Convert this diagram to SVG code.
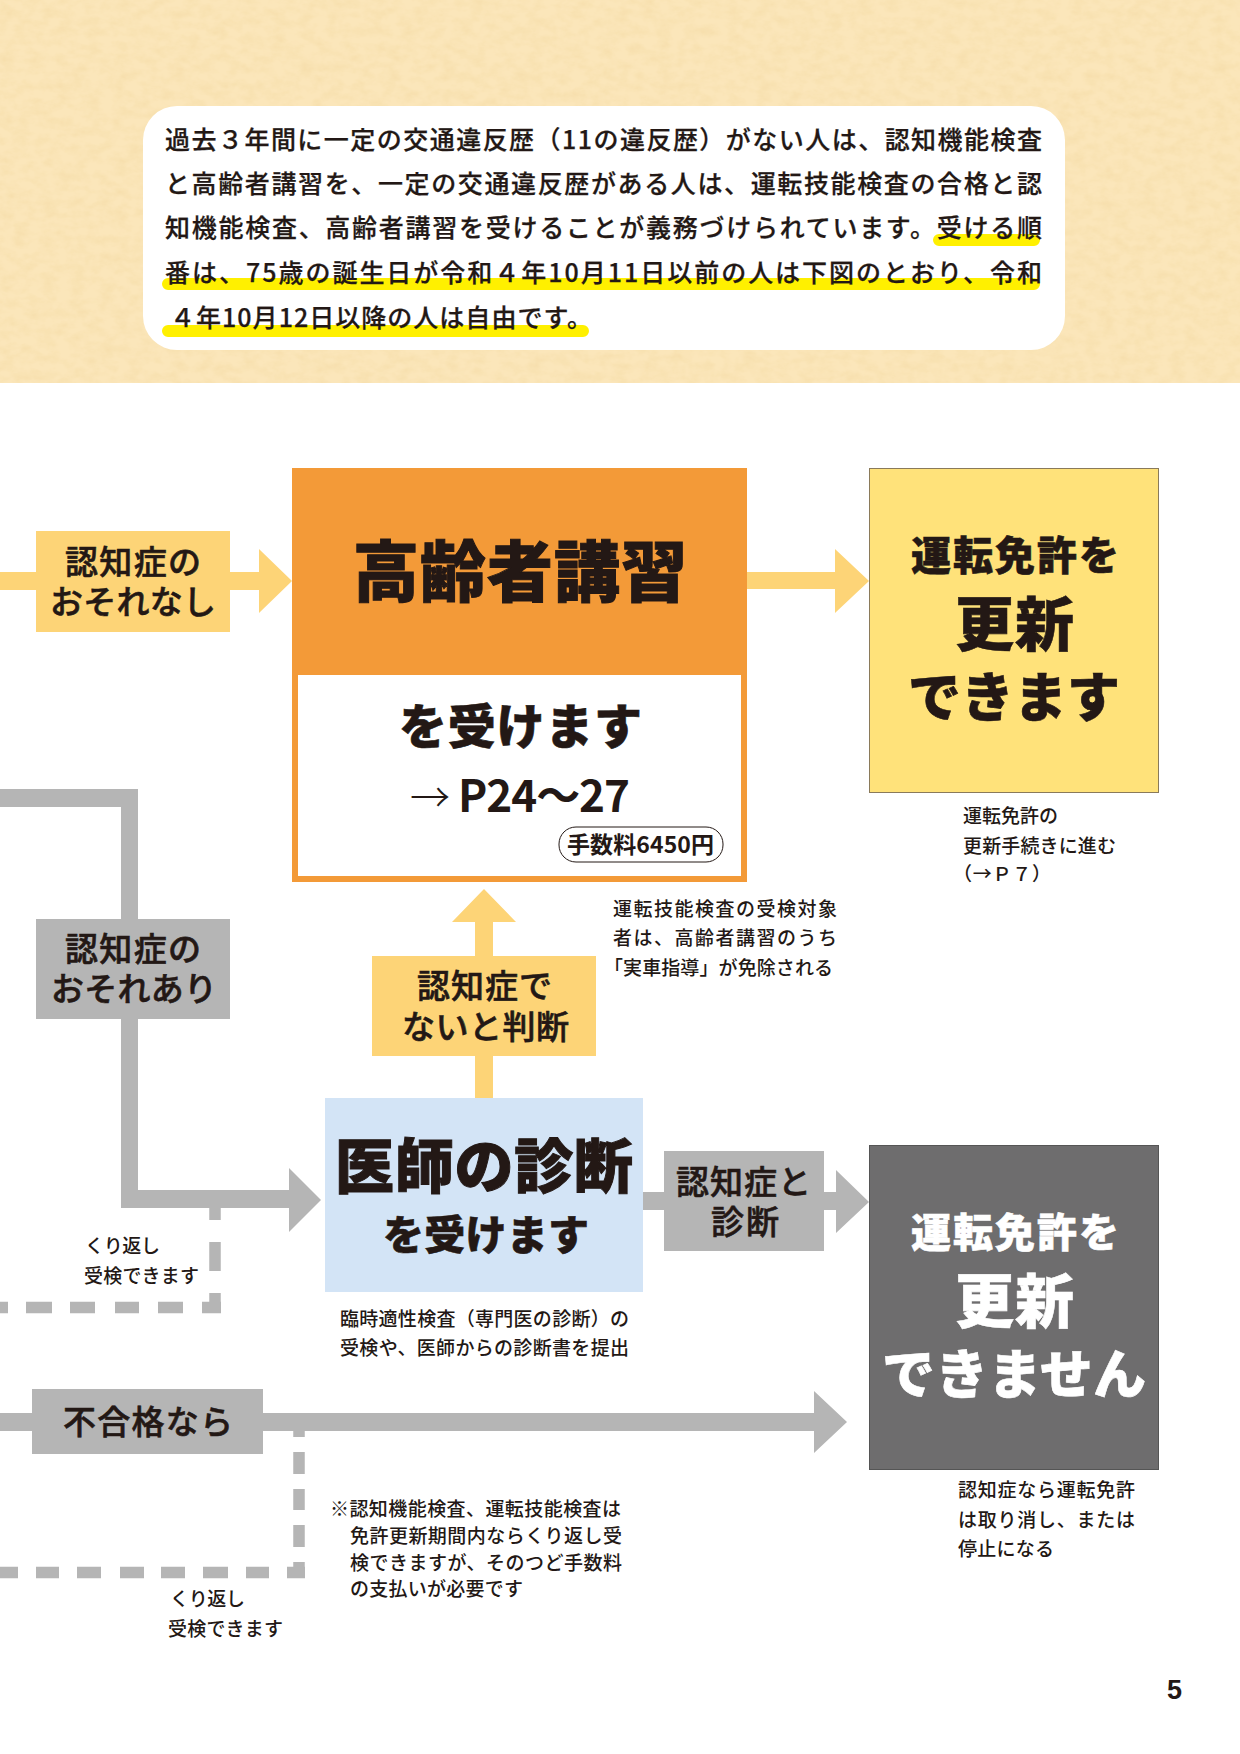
<svg xmlns="http://www.w3.org/2000/svg" width="1240" height="1754" viewBox="0 0 1240 1754">
<style>
text{font-family:"Noto Sans CJK JP","Noto Sans",sans-serif;fill:#231815}
.body{font-size:25px;font-weight:500;stroke:#231815;stroke-width:.25}
.lab{font-size:33px;font-weight:500;stroke:#231815;stroke-width:.6}
.small{font-size:19px;font-weight:500}
.hv{font-weight:900;stroke:#231815;stroke-width:.6}
.hv.wt{fill:#fff;stroke:#fff}
.y{fill:#fdd477}
.g{fill:#b5b5b5}
.dash{fill:none;stroke:#b5b5b5;stroke-width:11.5}
.hl{fill:none;stroke:#fff000;stroke-width:12;stroke-linecap:round}
</style>
<defs>
<filter id="grain" x="0" y="0" width="100%" height="100%">
<feTurbulence type="fractalNoise" baseFrequency="0.07 0.11" numOctaves="4" seed="3"/>
<feColorMatrix values="0 0 0 0 0.93  0 0 0 0 0.74  0 0 0 0 0.42  1.8 0 0 0 -0.6"/>
<feComposite in2="SourceGraphic" operator="over"/>
</filter>
</defs>
<rect id="paper" x="0" y="0" width="1240" height="383" fill="#fbe6ba" filter="url(#grain)"/>
<g id="intro">
<rect x="143" y="106" width="922" height="244" rx="34" fill="#fff"/>
<path class="hl" d="M939 240H1034M168 284H1034M168 331H583"/>
<text class="body" x="165" y="149" textLength="877">過去３年間に一定の交通違反歴（11の違反歴）がない人は、認知機能検査</text>
<text class="body" x="165" y="193" textLength="877">と高齢者講習を、一定の交通違反歴がある人は、運転技能検査の合格と認</text>
<text class="body" x="165" y="237" textLength="877">知機能検査、高齢者講習を受けることが義務づけられています。受ける順</text>
<text class="body" x="165" y="282" textLength="877">番は、75歳の誕生日が令和４年10月11日以前の人は下図のとおり、令和</text>
<text class="body" x="170" y="327" textLength="422">４年10月12日以降の人は自由です。</text>
</g>
<g id="connectors">
<path class="y" d="M0 572H259V549L292 581L259 613V590H0Z"/>
<path class="y" d="M747 572H835V549L869 581L835 613V589H747Z"/>
<path class="y" d="M475 1098V922H452L484 889L516 922H493V1098Z"/>
<path class="g" d="M0 789H138V1190H289V1168L321 1200L289 1232V1208H121V807H0Z"/>
<path class="g" d="M643 1192H836V1170L869 1202L836 1233V1210H643Z"/>
<path class="g" d="M0 1413H814V1391L847 1422L814 1453V1431H0Z"/>
<path class="dash" d="M215 1208V1220M215 1242V1271M215 1293V1313M0 1307.500H8M26 1307.500H52M70 1307.500H95M115 1307.500H139M158 1307.500H183M202 1307.500H221"/>
<path class="dash" d="M299 1431V1437M299 1452V1474M299 1489V1510M299 1525V1547M299 1562V1578M0 1572.500H18M36 1572.500H59M77 1572.500H101M120 1572.500H144M161 1572.500H185M203 1572.500H228M246 1572.500H269M287 1572.500H305"/>
</g>
<g id="label-nashi">
<rect class="y" x="36" y="531" width="194" height="101"/>
<text class="lab" x="65" y="574" textLength="136">認知症の</text>
<text class="lab" x="50" y="614" textLength="166">おそれなし</text>
</g>
<g id="koshu">
<rect x="292" y="468" width="455" height="414" fill="#f39a38"/>
<rect x="298" y="675" width="443" height="201" fill="#fff"/>
<text class="hv" x="353" y="596" font-size="66" textLength="334" style="stroke-width:1">高齢者講習</text>
<text class="hv" x="399" y="744" font-size="48" textLength="243">を受けます</text>
<text x="410" y="812" font-size="40" font-weight="300" textLength="40">→</text>
<text x="458" y="812" font-size="44" font-weight="700" textLength="172">P24～27</text>
<rect x="559" y="827" width="164" height="35" rx="17" fill="#fff" stroke="#231815" stroke-width="1"/>
<text x="567" y="853" font-size="23" font-weight="700" textLength="147">手数料6450円</text>
</g>
<g id="koshin">
<rect x="869.500" y="468.500" width="289" height="324" fill="#ffe27a" stroke="#8a7a5a"/>
<text class="hv" x="911" y="570" font-size="40" textLength="208">運転免許を</text>
<text class="hv" x="955" y="646" font-size="59" textLength="119">更新</text>
<text class="hv" x="908" y="717" font-size="53" textLength="212">できます</text>
</g>
<g id="note-koshin">
<text class="small" x="963" y="823" textLength="95">運転免許の</text>
<text class="small" x="963" y="853" textLength="153">更新手続きに進む</text>
<text class="small" x="953" y="881" textLength="98">（→Ｐ７）</text>
</g>
<g id="note-jissha">
<text class="small" x="613" y="916" textLength="224">運転技能検査の受検対象</text>
<text class="small" x="613" y="945" textLength="224">者は、高齢者講習のうち</text>
<text class="small" x="604" y="975" textLength="229">「実車指導」が免除される</text>
</g>
<g id="label-nai">
<rect class="y" x="372" y="956" width="224" height="100"/>
<text class="lab" x="417" y="998" textLength="135">認知症で</text>
<text class="lab" x="402" y="1039" textLength="167">ないと判断</text>
</g>
<g id="label-ari">
<rect class="g" x="36" y="919" width="194" height="100"/>
<text class="lab" x="65" y="961" textLength="136">認知症の</text>
<text class="lab" x="51" y="1001" textLength="166">おそれあり</text>
</g>
<g id="shindan">
<rect x="325" y="1098" width="318" height="194" fill="#d3e4f6"/>
<text class="hv" x="335" y="1188" font-size="59" textLength="298" style="stroke-width:1">医師の診断</text>
<text class="hv" x="383" y="1250" font-size="41" textLength="206">を受けます</text>
</g>
<g id="note-shindan">
<text class="small" x="340" y="1326" textLength="289">臨時適性検査（専門医の診断）の</text>
<text class="small" x="340" y="1355" textLength="289">受検や、医師からの診断書を提出</text>
</g>
<g id="label-to">
<rect class="g" x="664" y="1151" width="160" height="100"/>
<text class="lab" x="676" y="1194" textLength="135">認知症と</text>
<text class="lab" x="711" y="1234" textLength="68">診断</text>
</g>
<g id="note-kuri1">
<text class="small" x="85" y="1253" textLength="75">くり返し</text>
<text class="small" x="84" y="1283" textLength="115">受検できます</text>
</g>
<g id="fukoshin">
<rect x="869.500" y="1145.500" width="289" height="324" fill="#6e6d6e" stroke="#555"/>
<text class="hv wt" x="911" y="1247" font-size="40" textLength="208">運転免許を</text>
<text class="hv wt" x="955" y="1323" font-size="59" textLength="119">更新</text>
<text class="hv wt" x="882" y="1394" font-size="53" textLength="264">できません</text>
</g>
<g id="note-fukoshin">
<text class="small" x="958" y="1497" textLength="177">認知症なら運転免許</text>
<text class="small" x="958" y="1527" textLength="177">は取り消し、または</text>
<text class="small" x="958" y="1556" textLength="96">停止になる</text>
</g>
<g id="label-fugokaku">
<rect class="g" x="32" y="1389" width="231" height="65"/>
<text class="lab" x="63" y="1434" textLength="170">不合格なら</text>
</g>
<g id="note-asterisk">
<text class="small" x="330" y="1516" textLength="291">※認知機能検査、運転技能検査は</text>
<text class="small" x="350" y="1543" textLength="272">免許更新期間内ならくり返し受</text>
<text class="small" x="350" y="1570" textLength="272">検できますが、そのつど手数料</text>
<text class="small" x="350" y="1596" textLength="173">の支払いが必要です</text>
</g>
<g id="note-kuri2">
<text class="small" x="170" y="1606" textLength="75">くり返し</text>
<text class="small" x="168" y="1636" textLength="115">受検できます</text>
</g>
<text id="page" x="1167" y="1699" font-size="27" font-weight="700" style="font-family:'Liberation Sans',sans-serif">5</text>
</svg>
